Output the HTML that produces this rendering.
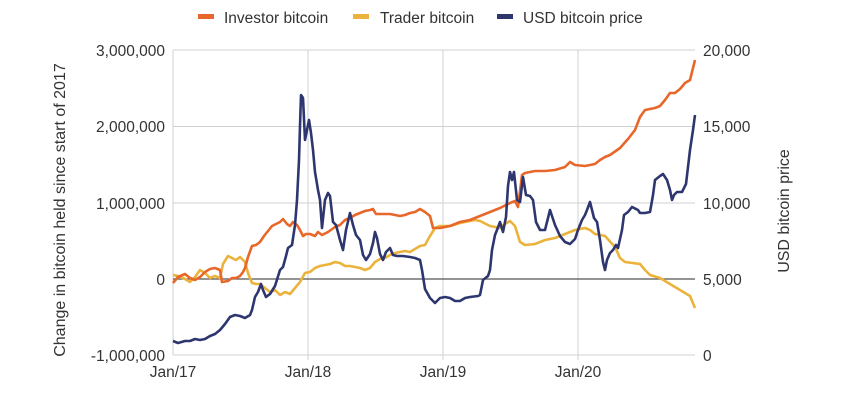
<!DOCTYPE html>
<html><head><meta charset="utf-8"><style>
body{margin:0;background:#fff;}
svg text{font-family:"Liberation Sans",sans-serif;fill:#333;}
</style></head><body>
<svg width="857" height="414" viewBox="0 0 857 414" xmlns="http://www.w3.org/2000/svg">
<g stroke="#d0d0d0" stroke-width="1">
<line x1="173" y1="50" x2="695" y2="50"/><line x1="173" y1="126.5" x2="695" y2="126.5"/><line x1="173" y1="203" x2="695" y2="203"/><line x1="173" y1="355" x2="695" y2="355"/>
<line x1="173" y1="50" x2="173" y2="355"/><line x1="308" y1="50" x2="308" y2="360"/><line x1="443" y1="50" x2="443" y2="360"/><line x1="578" y1="50" x2="578" y2="360"/>
</g>
<line x1="173" y1="279" x2="695" y2="279" stroke="#555" stroke-width="1.3"/>
<g font-size="15.5" text-anchor="end">
<text x="165" y="56">3,000,000</text><text x="165" y="132">2,000,000</text><text x="165" y="209">1,000,000</text><text x="165" y="285">0</text><text x="165" y="361">-1,000,000</text>
</g>
<g font-size="15.5" text-anchor="start">
<text x="703" y="56">20,000</text><text x="703" y="132">15,000</text><text x="703" y="209">10,000</text><text x="703" y="285">5,000</text><text x="703" y="361">0</text>
</g>
<g font-size="15.5" text-anchor="middle">
<text x="173" y="377">Jan/17</text><text x="308" y="377">Jan/18</text><text x="443" y="377">Jan/19</text><text x="578" y="377">Jan/20</text>
</g>
<text font-size="16" text-anchor="middle" transform="translate(65,210) rotate(-90)">Change in bitcoin held since start of 2017</text>
<text font-size="16" text-anchor="middle" transform="translate(789,211) rotate(-90)">USD bitcoin price</text>
<g font-size="15.5">
<rect x="198" y="14" width="16" height="5" fill="#e8672a"/><text x="224" y="23">Investor bitcoin</text>
<rect x="353" y="14" width="16" height="5" fill="#ebb33c"/><text x="380" y="23">Trader bitcoin</text>
<rect x="497" y="14" width="16" height="5" fill="#2e3670"/><text x="523" y="23">USD bitcoin price</text>
</g>
<g fill="none" stroke-width="2.6" stroke-linejoin="round">
<polyline stroke="#ebb33c" points="173,275 178,276 185,279 190,282 195,277 200,270 205,273 210,278 215,276 220,278 223,264 228,256 232,258 236,260 240,257 245,262 248,273 252,283 256,284 260,284 265,288 270,292 275,290 280,295 285,292 290,294 295,288 300,282 305,273 310,272 315,268 320,266 325,265 330,264 335,262 340,263 345,266 350,266 355,267 360,268 365,270 370,268 375,262 380,259 385,258 390,255 395,253 400,252 405,251 410,252 415,249 420,246 425,245 430,236 435,228 440,226 450,226 460,223 470,221 475,220 480,221 490,226 500,228 505,224 510,221 515,226 520,242 525,245 535,244 545,240 555,238 565,234 575,230 585,228 590,230 595,234 605,236 615,247 620,258 625,262 640,264 645,270 650,275 660,278 670,284 680,290 690,296 695,308"/>
<polyline stroke="#e8672a" points="173,283 178,277 185,274 190,278 195,280 200,277 205,272 210,269 215,268 220,270 222,282 228,281 232,278 236,278 240,276 243,272 245,268 248,257 252,246 256,245 260,242 264,236 268,231 272,226 276,224 280,222 283,219 287,224 290,226 293,222 297,225 300,230 303,236 306,234 310,234 315,236 318,232 322,235 328,232 335,227 340,225 345,220 350,218 355,215 360,213 365,211 370,210 373,209 376,214 380,214 390,214 395,215 400,216 405,215 410,213 415,212 420,209 425,212 430,216 433,228 440,228 450,226 460,222 470,220 480,216 490,212 500,208 510,203 515,201 518,207 522,175 525,173 535,171 545,171 555,170 565,167 570,162 575,165 585,166 595,164 600,160 605,157 610,155 620,148 628,139 635,130 640,117 645,110 655,108 660,106 665,100 670,93 675,93 680,89 685,83 690,80 695,60"/>
<polyline stroke="#2e3670" points="173,341 178,343 185,341 190,341 195,339 200,340 205,339 210,336 215,334 220,330 225,324 230,317 235,315 240,316 245,318 250,315 252,310 255,297 258,292 261,284 263,290 266,297 270,294 275,286 280,270 283,267 286,256 288,248 292,245 295,225 297,200 299,160 300,126 301,95 303,98 305,140 307,130 309,120 311,133 313,150 315,172 318,190 320,200 322,228 325,200 328,193 330,196 333,222 336,225 340,240 343,250 346,230 350,213 353,225 356,235 360,240 363,255 366,260 370,254 373,243 375,232 377,238 380,254 383,260 386,252 390,248 393,255 397,256 403,256 410,257 415,258 420,260 422,270 425,289 430,298 435,303 440,298 445,297 450,298 455,301 460,301 465,298 470,297 478,296 480,295 483,280 488,276 490,270 492,250 495,235 497,230 500,222 503,232 506,217 508,186 510,172 512,180 514,172 517,200 520,202 523,177 526,195 530,196 533,200 536,222 540,230 545,230 550,210 555,225 560,236 565,242 570,244 575,239 578,230 582,220 585,215 587,210 590,202 594,218 597,222 600,240 603,262 605,270 607,260 610,253 613,250 616,245 618,248 622,230 624,215 628,212 632,207 638,210 640,213 645,213 650,212 653,195 655,180 660,176 663,174 667,180 670,190 672,200 674,195 677,192 682,192 686,184 690,150 693,130 695,115"/>
</g>
</svg>
</body></html>
